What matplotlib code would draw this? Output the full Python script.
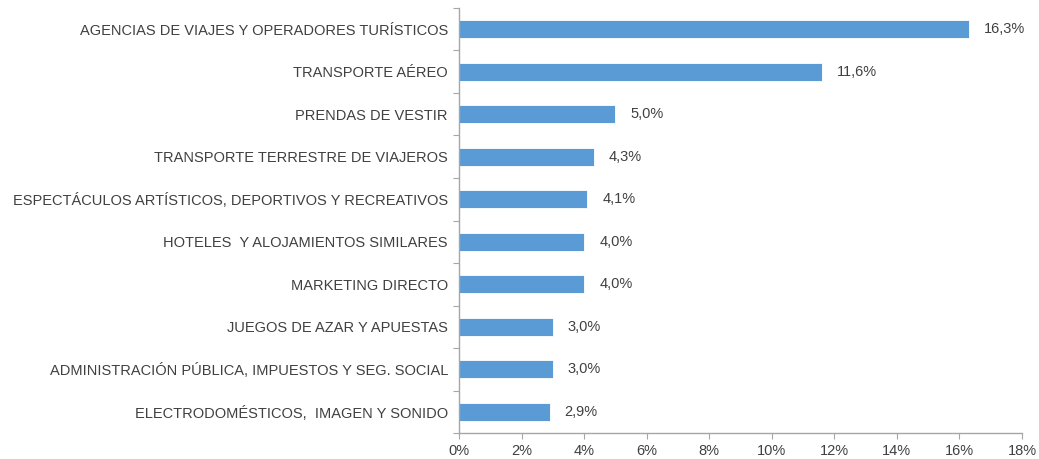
import numpy as np
import matplotlib.pyplot as plt

plt.rcParams["font.family"] = ["Liberation Sans", "DejaVu Sans"]

# Data (top to bottom)
categories = [
    "AGENCIAS DE VIAJES Y OPERADORES TURÍSTICOS",
    "TRANSPORTE AÉREO",
    "PRENDAS DE VESTIR",
    "TRANSPORTE TERRESTRE DE VIAJEROS",
    "ESPECTÁCULOS ARTÍSTICOS, DEPORTIVOS Y RECREATIVOS",
    "HOTELES  Y ALOJAMIENTOS SIMILARES",
    "MARKETING DIRECTO",
    "JUEGOS DE AZAR Y APUESTAS",
    "ADMINISTRACIÓN PÚBLICA, IMPUESTOS Y SEG. SOCIAL",
    "ELECTRODOMÉSTICOS,  IMAGEN Y SONIDO",
]
values = [16.3, 11.6, 5.0, 4.3, 4.1, 4.0, 4.0, 3.0, 3.0, 2.9]
xticks = [0, 2, 4, 6, 8, 10, 12, 14, 16, 18]

text_color = "#404040"
axis_color = "#a6a6a6"
bar_color = "#5b9bd5"

fig = plt.figure(figsize=(10.39, 4.59), dpi=100)
ax = fig.add_axes([0.4418, 0.0566, 0.5418, 0.926])

n = len(categories)
y = np.arange(n)[::-1]
ax.barh(y, values, height=0.42, color=bar_color, edgecolor="white", linewidth=0.6)

for yi, v in zip(y, values):
    ax.text(v + 0.48, yi, f"{v:.1f}%".replace(".", ","), va="center", ha="left",
            fontsize=10.5, color=text_color)

ax.set_xlim(0, 18)
ax.set_ylim(-0.5, n - 0.5)
ax.set_xticks(xticks)
ax.set_xticklabels([f"{t}%" for t in xticks], fontsize=10.5, color=text_color)

# category boundaries as major ticks, labels on minor ticks
ax.set_yticks(np.arange(n + 1) - 0.5)
ax.set_yticklabels([])
ax.set_yticks(y, minor=True)
ax.set_yticklabels(categories, minor=True, fontsize=10.5, color=text_color)
ax.tick_params(axis="y", which="minor", length=0, pad=8)
ax.tick_params(axis="y", which="major", length=4, color=axis_color)
ax.tick_params(axis="x", length=4, color=axis_color, pad=4)

for side in ["top", "right"]:
    ax.spines[side].set_visible(False)
for side in ["left", "bottom"]:
    ax.spines[side].set_color(axis_color)
    ax.spines[side].set_linewidth(1)

fig.savefig("out.png", dpi=100)
